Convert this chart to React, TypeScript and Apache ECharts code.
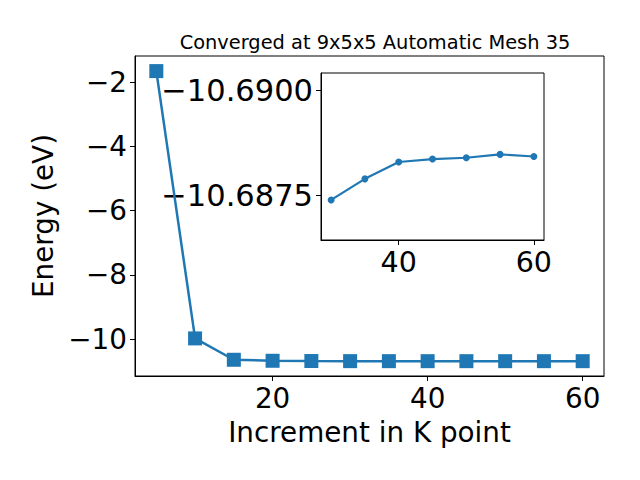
import React, { useEffect, useRef } from "react";
import * as echarts from "echarts";

const kPoints = [5, 10, 15, 20, 25, 30, 35, 40, 45, 50, 55, 60];
const energy = [
  -1.66, -9.98, -10.645, -10.676, -10.684, -10.6874, -10.6879, -10.6883,
  -10.68837, -10.6884, -10.68848, -10.68843,
];
const insetStart = 30;
const mainXTicks = [20, 40, 60];
const mainYTicks = [-10, -8, -6, -4, -2];
const insetXTicks = [40, 60];
const insetYTicks = [-10.69, -10.6875];
const titleText = "Converged at 9x5x5 Automatic Mesh 35";
const xName = "Increment in K point";
const yName = "Energy (eV)";

const BLUE = "#1f77b4";
const FONT = "DejaVu Sans";
const minus = (s: string) => s.replace("-", "\u2212");

export default function App() {
  const ref = useRef<HTMLDivElement>(null);
  useEffect(() => {
    if (!ref.current) return;
    const chart = echarts.init(ref.current, null, { renderer: "svg" });
    const mainData = kPoints.map((k, i) => [k, energy[i]]);
    const insetData = mainData.filter((d) => d[0] >= insetStart);
    const axisCommon = {
      axisLine: { show: true, lineStyle: { color: "#000", width: 1 } },
      splitLine: { show: false },
    };
    chart.setOption({
      animation: false,
      backgroundColor: "#fff",
      textStyle: { fontFamily: FONT },
      title: {
        text: titleText,
        left: 370,
        top: 28,
        textAlign: "center",
        textStyle: { fontFamily: FONT, fontSize: 19.4, fontWeight: "normal", color: "#000" },
      },
      grid: [
        { left: 135, top: 56, width: 469, height: 320, show: true, borderColor: "#000", borderWidth: 1 },
        { left: 321, top: 73, width: 223, height: 167, show: true, borderColor: "#000", borderWidth: 1, backgroundColor: "#fff" },
      ],
      xAxis: [
        {
          ...axisCommon,
          gridIndex: 0,
          type: "value",
          min: 2.25,
          max: 62.75,
          name: xName,
          nameLocation: "middle",
          nameGap: 42,
          nameTextStyle: { fontFamily: FONT, fontSize: 27.8, color: "#000" },
          axisTick: { show: true, length: 5, lineStyle: { color: "#000" }, customValues: mainXTicks },
          axisLabel: { fontFamily: FONT, fontSize: 27.8, color: "#000", margin: 8, customValues: mainXTicks },
        },
        {
          ...axisCommon,
          gridIndex: 1,
          type: "value",
          min: 28.5,
          max: 61.5,
          axisTick: { show: true, length: 5, lineStyle: { color: "#000" }, customValues: insetXTicks },
          axisLabel: { fontFamily: FONT, fontSize: 28.5, color: "#000", margin: 8, customValues: insetXTicks },
        },
      ],
      yAxis: [
        {
          ...axisCommon,
          gridIndex: 0,
          type: "value",
          min: -11.15,
          max: -1.19,
          name: yName,
          nameLocation: "middle",
          nameGap: 76,
          nameRotate: 90,
          nameTextStyle: { fontFamily: FONT, fontSize: 27.8, color: "#000" },
          axisTick: { show: true, length: 5, lineStyle: { color: "#000" }, customValues: mainYTicks },
          axisLabel: {
            fontFamily: FONT,
            fontSize: 27.8,
            color: "#000",
            margin: 8,
            customValues: mainYTicks,
            formatter: (v: number) => minus(String(v)),
          },
        },
        {
          ...axisCommon,
          gridIndex: 1,
          type: "value",
          inverse: true,
          min: -10.69041,
          max: -10.68645,
          axisTick: { show: true, length: 5, lineStyle: { color: "#000" }, customValues: insetYTicks },
          axisLabel: {
            fontFamily: FONT,
            fontSize: 30.5,
            color: "#000",
            margin: 8,
            customValues: insetYTicks,
            formatter: (v: number) => minus(v.toFixed(4)),
          },
        },
      ],
      series: [
        {
          type: "line",
          xAxisIndex: 0,
          yAxisIndex: 0,
          data: mainData,
          symbol: "rect",
          symbolSize: 14,
          lineStyle: { color: BLUE, width: 2.5 },
          itemStyle: { color: BLUE },
          z: 2,
        },
        {
          type: "line",
          xAxisIndex: 1,
          yAxisIndex: 1,
          data: insetData,
          symbol: "circle",
          symbolSize: 7,
          lineStyle: { color: BLUE, width: 2.2 },
          itemStyle: { color: BLUE },
          z: 5,
        },
      ],
    });
    return () => chart.dispose();
  }, []);
  return (
    <div
      ref={ref}
      style={{ position: "fixed", left: 0, top: 0, width: 640, height: 480 }}
    />
  );
}
